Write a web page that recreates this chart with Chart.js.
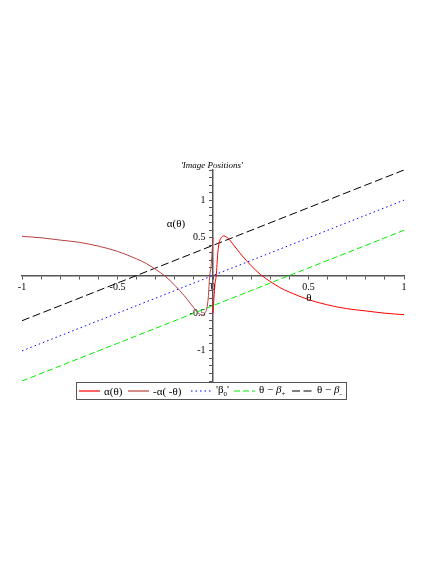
<!DOCTYPE html>
<html>
<head>
<meta charset="utf-8">
<script src="https://cdn.jsdelivr.net/npm/chart.js@4"></script>
<style>
  html, body { margin: 0; padding: 0; background: #fff; }
  #wrap { position: relative; width: 436px; height: 564px; font-family: "Liberation Serif", "DejaVu Serif", serif; }
  #plot { position: absolute; left: 0; top: 0; }
  .lbl { position: absolute; color: #000; white-space: nowrap; transform: translate(-50%, -50%); }
  #title { left: 212px; top: 165px; font-size: 9px; font-style: italic; }
  #xlabel { left: 309px; top: 297px; font-size: 11px; }
  #ylabel { left: 176px; top: 223px; font-size: 11px; }
  #legend { position: absolute; left: 76px; top: 382px; width: 269px; height: 16px; border: 1px solid #555; }
  #legend .item { position: absolute; top: 0; height: 16px; display: flex; align-items: center; font-size: 11px; white-space: nowrap; }
  #legend svg { margin-right: 4px; }
  #legend sub { font-size: 7px; }
</style>
</head>
<body>
<div id="wrap">
  <canvas id="plot" width="436" height="564"></canvas>
  <div class="lbl" id="title">'Image Positions'</div>
  <div class="lbl" id="xlabel">θ</div>
  <div class="lbl" id="ylabel">α(θ)</div>
  <div id="legend"></div>
</div>
<script>
// alpha(theta) for theta > 0
const thetaPos = [0, 0.005, 0.01, 0.017, 0.025, 0.032, 0.04, 0.05, 0.058, 0.07, 0.085, 0.1, 0.125, 0.15, 0.2, 0.25, 0.3, 0.35, 0.4, 0.5, 0.6, 0.7, 0.8, 0.9, 1.0];
const alphaPos = [-0.50, -0.30, -0.12, 0.0, 0.30, 0.43, 0.49, 0.52, 0.525, 0.51, 0.48, 0.43, 0.35, 0.27, 0.13, 0.01, -0.08, -0.16, -0.22, -0.32, -0.39, -0.44, -0.47, -0.50, -0.52];

// -alpha(-theta) for theta < 0
const thetaNeg = [-1, -0.9, -0.8, -0.7, -0.6, -0.5, -0.4, -0.35, -0.3, -0.25, -0.2, -0.15, -0.125, -0.1, -0.085, -0.07, -0.058, -0.05, -0.04, -0.032, -0.025, -0.017, -0.01, -0.005, 0];
const alphaNeg = [0.52, 0.50, 0.47, 0.44, 0.39, 0.32, 0.22, 0.16, 0.08, -0.01, -0.13, -0.27, -0.35, -0.43, -0.48, -0.51, -0.525, -0.52, -0.49, -0.43, -0.30, 0.0, 0.12, 0.30, 0.50];

// straight lines, end points
const lineTheta = [-1, 1];
const betaZeroY = [-1, 1];
const betaPlusY = [-1.4, 0.6];
const betaMinusY = [-0.6, 1.4];

const xTicksMin = -1, xTicksMax = 1;
const yTicksMin = -1.4, yTicksMax = 1.4;

function pts(xs, ys) {
    return xs.map((x, i) => ({ x: x, y: ys[i] }));
}

function tickLabel(v, skipZero) {
    const r = Math.round(v * 10) / 10;
    if (Math.abs(r * 2 - Math.round(r * 2)) > 1e-6) return '';
    if (skipZero && r === 0) return '';
    return String(r);
}

const datasets = [
    { label: 'α(θ)', html: 'α(θ)', data: pts(thetaPos, alphaPos), borderColor: '#ff0000', dash: [] },
    { label: '-α(-θ)', html: '-α( -θ)', data: pts(thetaNeg, alphaNeg), borderColor: '#b8403f', dash: [] },
    { label: "'β0'", html: "'β<sub>0</sub>'", data: pts(lineTheta, betaZeroY), borderColor: '#0000ff', dash: [1.5, 3] },
    { label: 'θ - β+', html: 'θ − <i>β</i><sub>+</sub>', data: pts(lineTheta, betaPlusY), borderColor: '#00ee00', dash: [6, 3] },
    { label: 'θ - β-', html: 'θ − <i>β</i><sub>-</sub>', data: pts(lineTheta, betaMinusY), borderColor: '#000000', dash: [8, 3.5] }
];
// left edge of each legend entry inside the legend box
const legendLeft = [2, 51, 114, 157, 215];

const ctx = document.getElementById('plot').getContext('2d');
const chart = new Chart(ctx, {
    type: 'line',
    data: {
        datasets: datasets.map(d => ({
            label: d.label,
            data: d.data,
            borderColor: d.borderColor,
            borderDash: d.dash,
            borderWidth: 1,
            pointRadius: 0,
            fill: false,
            cubicInterpolationMode: 'monotone'
        }))
    },
    options: {
        responsive: false,
        animation: false,
        layout: { padding: { left: 22, right: 32, top: 170, bottom: 183 } },
        plugins: { legend: { display: false }, tooltip: { enabled: false } },
        scales: {
            x: {
                type: 'linear',
                min: xTicksMin,
                max: xTicksMax,
                position: { y: 0 },
                grid: { drawOnChartArea: false, drawTicks: true, tickLength: 3, color: '#555' },
                border: { color: '#555', width: 1.5 },
                ticks: {
                    stepSize: 0.1,
                    autoSkip: false,
                    maxRotation: 0,
                    padding: 3,
                    color: '#000',
                    font: { family: 'Liberation Serif', size: 10 },
                    callback: v => tickLabel(v, false)
                }
            },
            y: {
                type: 'linear',
                min: yTicksMin,
                max: yTicksMax,
                position: { x: 0 },
                grid: { drawOnChartArea: false, drawTicks: true, tickLength: 3, color: '#555' },
                border: { color: '#555', width: 1.5 },
                ticks: {
                    stepSize: 0.1,
                    autoSkip: false,
                    color: '#000',
                    font: { family: 'Liberation Serif', size: 10 },
                    // centred axes put labels right on the line, pad with spaces
                    callback: v => {
                        const s = tickLabel(v, true);
                        return s ? s + '   ' : '';
                    }
                }
            }
        }
    }
});

// legend
const legend = document.getElementById('legend');
datasets.forEach((d, i) => {
    const item = document.createElement('span');
    item.className = 'item';
    item.style.left = legendLeft[i] + 'px';
    const dashAttr = d.dash.length ? ` stroke-dasharray="${d.dash.join(' ')}"` : '';
    item.innerHTML = `<svg width="21" height="4"><line x1="0" y1="2" x2="21" y2="2" stroke="${d.borderColor}" stroke-width="1.2"${dashAttr}/></svg><span>${d.html}</span>`;
    legend.appendChild(item);
});
</script>
</body>
</html>
